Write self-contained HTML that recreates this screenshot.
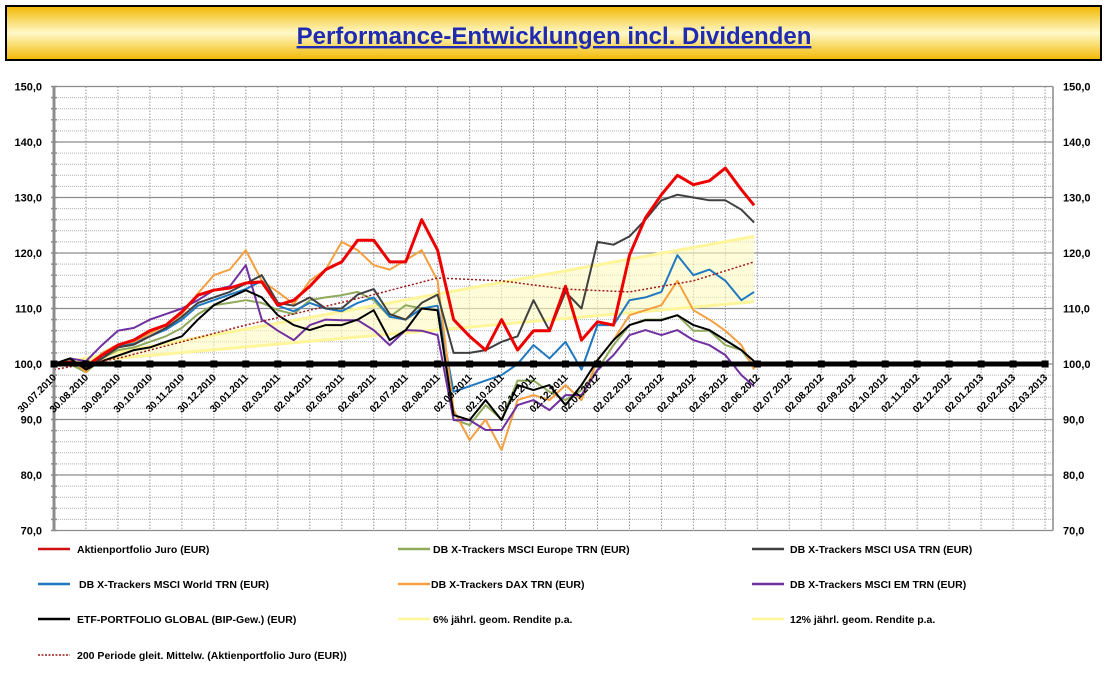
<!DOCTYPE html>
<html><head><meta charset="utf-8"><style>
html,body{margin:0;padding:0;background:#fff;}
body{width:1109px;height:686px;overflow:hidden;font-family:"Liberation Sans",sans-serif;}
</style></head><body>
<svg id="chart" width="1109" height="686" xmlns="http://www.w3.org/2000/svg" style="font-family:'Liberation Sans',sans-serif">
<defs>
<linearGradient id="tg" x1="0" y1="0" x2="0" y2="1">
<stop offset="0" stop-color="#f2b800"/><stop offset="0.5" stop-color="#fff9c8"/><stop offset="1" stop-color="#f2b800"/>
</linearGradient>
</defs>
<rect x="6" y="6" width="1095" height="54" fill="url(#tg)" stroke="#000" stroke-width="2"/>
<text x="554" y="44" text-anchor="middle" font-size="24" font-weight="bold" fill="#1f2bb0" text-decoration="underline">Performance-Entwicklungen incl. Dividenden</text>
<g id="grid"></g>
<g id="series"></g>
<g id="axes"></g>
<g id="legend"></g>
</svg>
<script>
const xLabels=["30.07.2010","30.08.2010","30.09.2010","30.10.2010","30.11.2010","30.12.2010","30.01.2011","02.03.2011","02.04.2011","02.05.2011","02.06.2011","02.07.2011","02.08.2011","02.09.2011","02.10.2011","02.11.2011","02.12.2011","02.01.2012","02.02.2012","02.03.2012","02.04.2012","02.05.2012","02.06.2012","02.07.2012","02.08.2012","02.09.2012","02.10.2012","02.11.2012","02.12.2012","02.01.2013","02.02.2013","02.03.2013"];
const yTicks=[70,80,90,100,110,120,130,140,150];
const months=[0,0.5,1,1.5,2,2.5,3,3.5,4,4.5,5,5.5,6,6.5,7,7.5,8,8.5,9,9.5,10,10.5,11,11.5,12,12.5,13,13.5,14,14.5,15,15.5,16,16.5,17,17.5,18,18.5,19,19.5,20,20.5,21,21.5,21.9];
const juro=[100,100.3,99.6,101.6,103.4,104.3,106,107,109.4,112.4,113.3,113.7,114.6,114.8,110.6,111.5,114,117,118.4,122.3,122.3,118.4,118.4,126,120.5,108,105,102.5,108,102.5,106,106,114,104.3,107.6,107,119.6,126.3,130.5,134,132.3,133,135.3,131.4,128.6];
const usa=[100,100.5,99.2,101,103,103.5,105,106.5,108.5,111,112,113,114.5,116,111,110.5,112,110,110,112.5,113.5,109,108,111,112.5,102,102,102.5,104,105,111.5,106,113,110,122,121.5,123,126,129.5,130.5,130,129.5,129.5,127.8,125.5];
const world=[100,100.4,99,101.5,103,103.8,105,106.2,108,110.5,111.5,112.5,113.5,115,110.5,109.5,111,110,109.5,111,112,108.5,108,110,110.5,95,96,97,98,100,103.4,101,104,99,107,107,111.5,112,113,119.6,116,117,115,111.5,113];
const dax=[100,101,98.5,102,103.5,104,105.5,107,109,112.7,116,117,120.5,115,113,110.8,115,117,122,120.5,117.8,117,118.7,120.5,115,91.7,86.3,90,84.5,93.5,94.4,93.5,96.2,93.5,100.7,104.3,108.8,109.7,110.6,115,109.7,108,106,103.4,99];
const europe=[100,100,98.5,101,102.5,103,104,105,106.5,109,110.6,111,111.5,111,109.7,109,111.5,112,112.4,113,111.5,108.5,110.6,110,109.7,90,89,92.6,90,97,97,95,93.5,95.3,99,103.4,107,108,108,108.8,106,106,103.4,102.5,99.5];
const etf=[100,101,99,100.5,101.5,102.5,103,104,105,108,110.6,112,113.3,112,108.8,107,106.1,107,107,108,109.7,104.3,106.1,110,109.7,90.8,89.9,93.5,89.9,96.2,95.3,96.2,92.6,96.2,100.7,104.3,107,107.9,107.9,108.8,107,106.1,104.3,102.5,100.5];
const em=[100,101,100.5,103.4,106,106.5,108,109,110,111.5,113.3,114,117.8,108,106,104.3,107,108,107.9,107.9,106.1,103.4,106.1,106,105.2,89.9,89.9,88.1,88.1,92.6,93.5,91.7,94.4,94.4,98.9,101.6,105.2,106.1,105.2,106.1,104.3,103.4,101.6,98,96];
const maMonths=[0,2,4,6,8,10,12,14,16,18,20,21.9];
const maValues=[99,101,104,107,109.7,112.5,115.5,115,113.5,113,115,118.4];
const renditeMonths=[0,21.9];
const rend6=[100,111.2];
const rend12=[100,123.0];
const baseline=100;

const NS="http://www.w3.org/2000/svg";
const X0=54,XS=31.97,XR=1053;
function xs(m){return X0+m*XS;}
function ys(v){return 364-(v-100)*5.55;}
function mk(tag,attrs,parent){const e=document.createElementNS(NS,tag);for(const k in attrs)e.setAttribute(k,attrs[k]);parent.appendChild(e);return e;}
const grid=document.getElementById('grid'),ser=document.getElementById('series'),ax=document.getElementById('axes'),leg=document.getElementById('legend');
// minor horizontal
for(let v=72;v<150;v+=2){if(v%10===0)continue;const l=mk('line',{x1:X0,x2:XR,y1:ys(v),y2:ys(v),stroke:'#b0b0b0','stroke-width':1,'stroke-dasharray':'1,1'},grid);

}
xLabels.forEach((t,i)=>{const l=mk('line',{x1:xs(i),x2:xs(i),y1:ys(150),y2:ys(70),stroke:'#999','stroke-width':1,'stroke-dasharray':'1.5,1.5'},grid);

});
yTicks.forEach(v=>{const l=mk('line',{x1:X0,x2:XR,y1:ys(v),y2:ys(v),stroke:'#8c8c8c','stroke-width':1.2},grid);


const a=mk('text',{x:42,y:ys(v)+4,'text-anchor':'end','font-size':11,'font-weight':'bold'},ax);a.textContent=v.toFixed(1).replace('.',',');


const b=mk('text',{x:1063,y:ys(v)+4,'font-size':11,'font-weight':'bold'},ax);b.textContent=v.toFixed(1).replace('.',',');

});
// axes
[X0,XR].forEach((x,i)=>{const l=mk('line',{x1:x,x2:x,y1:ys(150),y2:ys(70),stroke:'#8c8c8c','stroke-width':i?1.5:3},ax);

});
for(let v=70;v<=150;v+=2){const t=mk('line',{x1:X0-3,x2:X0+3,y1:ys(v),y2:ys(v),stroke:'#8c8c8c','stroke-width':1.5},ax);

}
// band
const band=mk('polygon',{points:renditeMonths.map((m,i)=>xs(m)+','+ys(rend12[i])).join(' ')+' '+renditeMonths.slice().reverse().map((m,i)=>xs(m)+','+ys(rend6[rend6.length-1-i])).join(' '),fill:'#fffbc0','fill-opacity':0.6},ser);


function line(ms,vals,color,w,name,dash){const p=mk('polyline',{points:ms.map((m,i)=>xs(m).toFixed(1)+','+ys(vals[i]).toFixed(1)).join(' '),fill:'none',stroke:color,'stroke-width':w,'stroke-linejoin':'round'},ser);if(dash)p.setAttribute('stroke-dasharray',dash);

}
line(renditeMonths,rend6,'#fff59a',3,'rendite-6-line');
line(renditeMonths,rend12,'#fff59a',3,'rendite-12-line');
line(months,europe,'#8faa5a',2,'europe-line');
line(months,world,'#1f78c0',2,'world-line');
line(months,dax,'#f4a040',2,'dax-line');
line(months,em,'#7030a0',2,'em-line');
line(months,usa,'#404040',2,'usa-line');
line(months,etf,'#000',2,'etf-line');
line(months,juro,'#ee0000',3,'juro-line');
line(maMonths,maValues,'#a01818',1.5,'moving-average-line','2,2');
// baseline
const bl=mk('line',{x1:X0,x2:XR-6,y1:ys(baseline),y2:ys(baseline),stroke:'#000','stroke-width':5},ax);


xLabels.forEach((t,i)=>{const r=mk('rect',{x:xs(i)-3.5,y:ys(baseline)-3.5,width:7,height:7,fill:'#000'},ax);


const tx=mk('text',{x:xs(i)+3,y:378,'text-anchor':'end','font-size':10,'font-weight':'bold',transform:'rotate(-45 '+(xs(i)+3)+' 378)'},ax);tx.textContent=t;

});
// legend
const legItems=[
["Aktienportfolio Juro (EUR)",'#d01010',38,77,549,''],["DB X-Trackers MSCI Europe TRN (EUR)",'#8faa5a',398,433,549,''],["DB X-Trackers MSCI USA TRN (EUR)",'#404040',752,790,549,''],
["DB X-Trackers MSCI World TRN (EUR)",'#1f78c0',38,79,584,''],["DB X-Trackers DAX TRN (EUR)",'#f4a040',398,431,584,''],["DB X-Trackers  MSCI EM TRN (EUR)",'#7030a0',752,790,584,''],
["ETF-PORTFOLIO GLOBAL (BIP-Gew.) (EUR)",'#000',38,77,619,''],["6% jährl. geom. Rendite p.a.",'#fff59a',398,433,619,''],["12% jährl. geom. Rendite p.a.",'#fff59a',752,790,619,''],
["200 Periode gleit. Mittelw. (Aktienportfolio Juro (EUR))",'#a01818',38,77,655,'2,1.5']];
legItems.forEach(it=>{const g=mk('g',{},leg);


const l=mk('line',{x1:it[2],x2:it[2]+32,y1:it[4],y2:it[4],stroke:it[1],'stroke-width':it[5]?1.5:2.5},g);if(it[5])l.setAttribute('stroke-dasharray',it[5]);
const t=mk('text',{x:it[3],y:it[4]+4,'font-size':10.5,'font-weight':'bold'},g);t.textContent=it[0];});
</script>
</body></html>
